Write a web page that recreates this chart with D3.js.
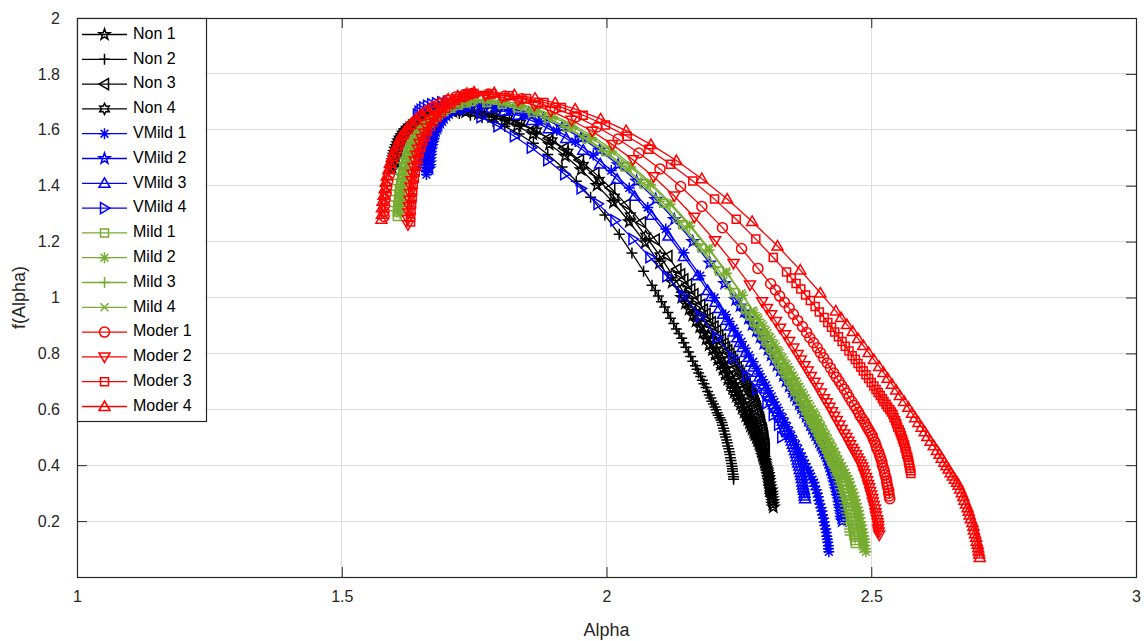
<!DOCTYPE html>
<html>
<head>
<meta charset="utf-8">
<script src="https://cdn.jsdelivr.net/npm/d3@7"></script>
<style>
  html, body { margin: 0; padding: 0; background: #ffffff; }
  svg { display: block; font-family: "Liberation Sans", Arial, Helvetica, sans-serif; }
</style>
</head>
<body>
<svg id="chart" width="1144" height="641"></svg>
<script>
// ---- Singularity spectra: alpha (x) and f(alpha) (y) for each recording ----
const non1Alpha = [1.595,1.595,1.596,1.597,1.598,1.599,1.600,1.602,1.604,1.606,1.608,1.611,1.614,1.617,1.621,1.626,1.631,1.637,1.643,1.650,1.658,1.667,1.678,1.689,1.701,
  1.710,1.734,1.758,1.783,1.807,1.831,1.861,1.892,1.922,1.952,1.982,2.013,2.043,2.073,2.100,2.124,
  2.142,2.149,2.156,2.163,2.169,2.176,2.182,2.188,2.194,2.200,2.205,2.210,2.215,2.220,2.224,2.229,2.234,2.238,2.241,2.245,2.249,2.253,2.256,2.260,2.263,2.267,2.270,2.272,2.275,2.278,2.280,2.283,2.285,2.288,2.290,
  2.292,2.293,2.295,2.297,2.299,2.300,2.302,2.303,2.305,2.306,2.307,2.308,2.309,2.311,2.312,2.312,2.313,2.314,2.314,2.315];
const non1F = [1.460,1.468,1.478,1.489,1.499,1.509,1.519,1.530,1.540,1.550,1.560,1.570,1.579,1.588,1.596,1.605,1.613,1.620,1.627,1.634,1.641,1.648,1.654,1.659,1.663,
  1.665,1.663,1.657,1.646,1.632,1.613,1.584,1.548,1.506,1.457,1.401,1.340,1.271,1.196,1.123,1.054,
  1.000,0.979,0.958,0.936,0.915,0.894,0.873,0.851,0.830,0.812,0.795,0.777,0.759,0.742,0.724,0.706,0.689,0.675,0.660,0.646,0.632,0.618,0.604,0.590,0.575,0.563,0.551,0.540,0.529,0.518,0.508,0.498,0.488,0.479,0.469,
  0.458,0.447,0.435,0.424,0.413,0.401,0.390,0.379,0.367,0.356,0.345,0.333,0.322,0.311,0.300,0.290,0.280,0.270,0.260,0.250];

const non2Alpha = [1.600,1.600,1.601,1.601,1.602,1.603,1.604,1.606,1.607,1.609,1.611,1.614,1.616,1.620,1.623,1.627,1.632,1.637,1.642,1.648,1.655,1.663,1.672,1.682,1.692,
  1.700,1.722,1.743,1.765,1.786,1.808,1.835,1.862,1.889,1.916,1.943,1.970,1.997,2.024,2.048,2.070,
  2.086,2.092,2.098,2.104,2.110,2.116,2.121,2.127,2.132,2.137,2.142,2.146,2.150,2.155,2.159,2.163,2.168,2.171,2.174,2.178,2.181,2.184,2.188,2.191,2.194,2.197,2.199,2.202,2.205,2.207,2.209,2.211,2.214,2.216,2.218,
  2.219,2.221,2.222,2.224,2.225,2.227,2.228,2.229,2.231,2.232,2.233,2.234,2.235,2.236,2.237,2.238,2.238,2.239,2.240,2.240];
const non2F = [1.500,1.506,1.514,1.522,1.530,1.538,1.546,1.554,1.562,1.570,1.578,1.586,1.593,1.600,1.606,1.613,1.619,1.625,1.630,1.636,1.642,1.646,1.651,1.655,1.658,
  1.660,1.658,1.652,1.643,1.629,1.612,1.585,1.552,1.512,1.467,1.416,1.359,1.295,1.226,1.159,1.094,
  1.044,1.025,1.005,0.985,0.966,0.946,0.926,0.907,0.887,0.871,0.854,0.838,0.822,0.805,0.789,0.772,0.756,0.743,0.730,0.717,0.704,0.691,0.678,0.664,0.651,0.640,0.629,0.619,0.608,0.598,0.588,0.579,0.570,0.562,0.553,
  0.543,0.532,0.522,0.511,0.501,0.490,0.480,0.469,0.459,0.448,0.438,0.427,0.417,0.406,0.396,0.387,0.378,0.368,0.359,0.350];

const non3Alpha = [1.605,1.605,1.606,1.607,1.607,1.609,1.610,1.611,1.613,1.615,1.617,1.620,1.623,1.626,1.630,1.635,1.640,1.645,1.651,1.658,1.666,1.674,1.684,1.695,1.706,
  1.715,1.738,1.762,1.785,1.809,1.832,1.861,1.891,1.920,1.949,1.978,2.008,2.037,2.066,2.092,2.116,
  2.133,2.140,2.146,2.153,2.159,2.165,2.171,2.178,2.183,2.188,2.193,2.198,2.203,2.208,2.212,2.217,2.222,2.225,2.229,2.233,2.236,2.240,2.243,2.247,2.250,2.253,2.256,2.259,2.262,2.264,2.267,2.269,2.271,2.274,2.276,
  2.277,2.279,2.281,2.283,2.284,2.286,2.287,2.289,2.290,2.291,2.292,2.294,2.295,2.296,2.297,2.297,2.298,2.299,2.299,2.300];
const non3F = [1.520,1.526,1.534,1.541,1.549,1.556,1.564,1.571,1.579,1.586,1.594,1.600,1.607,1.614,1.620,1.626,1.632,1.637,1.642,1.648,1.653,1.657,1.662,1.666,1.669,
  1.670,1.668,1.663,1.654,1.641,1.625,1.600,1.570,1.534,1.492,1.445,1.392,1.333,1.269,1.207,1.148,
  1.101,1.083,1.065,1.047,1.029,1.011,0.992,0.974,0.956,0.941,0.926,0.911,0.896,0.881,0.865,0.850,0.835,0.823,0.811,0.799,0.787,0.775,0.763,0.750,0.738,0.728,0.718,0.708,0.698,0.689,0.680,0.672,0.663,0.655,0.648,
  0.638,0.628,0.619,0.609,0.599,0.590,0.580,0.570,0.560,0.551,0.541,0.531,0.522,0.512,0.502,0.494,0.485,0.477,0.469,0.460];

const non4Alpha = [1.598,1.598,1.599,1.600,1.601,1.602,1.603,1.605,1.607,1.609,1.612,1.615,1.618,1.622,1.626,1.631,1.636,1.643,1.649,1.657,1.665,1.675,1.686,1.698,1.710,
  1.720,1.744,1.767,1.791,1.814,1.838,1.868,1.897,1.927,1.956,1.986,2.015,2.045,2.074,2.101,2.124,
  2.142,2.148,2.155,2.161,2.168,2.174,2.180,2.186,2.192,2.197,2.202,2.207,2.212,2.217,2.222,2.226,2.231,2.235,2.238,2.242,2.246,2.249,2.253,2.256,2.260,2.263,2.266,2.268,2.271,2.274,2.276,2.279,2.281,2.283,2.285,
  2.287,2.289,2.291,2.292,2.294,2.296,2.297,2.298,2.300,2.301,2.302,2.304,2.305,2.306,2.307,2.307,2.308,2.309,2.309,2.310];
const non4F = [1.480,1.488,1.498,1.507,1.517,1.527,1.537,1.546,1.556,1.566,1.576,1.584,1.593,1.602,1.610,1.617,1.625,1.632,1.639,1.646,1.653,1.658,1.664,1.669,1.673,
  1.675,1.673,1.667,1.657,1.643,1.624,1.596,1.561,1.520,1.473,1.419,1.359,1.292,1.220,1.149,1.081,
  1.029,1.008,0.988,0.967,0.946,0.926,0.905,0.884,0.864,0.847,0.829,0.812,0.795,0.778,0.761,0.743,0.726,0.713,0.699,0.685,0.671,0.658,0.644,0.630,0.616,0.605,0.593,0.582,0.571,0.561,0.550,0.541,0.531,0.522,0.513,
  0.502,0.491,0.480,0.469,0.458,0.447,0.436,0.425,0.414,0.403,0.392,0.381,0.370,0.359,0.348,0.339,0.329,0.319,0.310,0.300];

const vmild1Alpha = [1.660,1.660,1.661,1.661,1.662,1.662,1.663,1.664,1.666,1.667,1.668,1.670,1.672,1.675,1.677,1.680,1.684,1.687,1.692,1.696,1.701,1.707,1.714,1.722,1.729,
  1.735,1.762,1.790,1.817,1.845,1.872,1.906,1.941,1.975,2.009,2.043,2.078,2.112,2.146,2.177,2.204,
  2.225,2.232,2.240,2.248,2.255,2.262,2.269,2.277,2.284,2.289,2.295,2.301,2.306,2.312,2.317,2.323,2.328,2.333,2.337,2.341,2.345,2.349,2.353,2.358,2.362,2.365,2.369,2.372,2.375,2.378,2.381,2.384,2.386,2.389,2.392,
  2.393,2.396,2.398,2.400,2.401,2.403,2.405,2.407,2.408,2.410,2.411,2.412,2.414,2.415,2.416,2.417,2.418,2.419,2.419,2.420];
const vmild1F = [1.440,1.450,1.463,1.475,1.488,1.500,1.513,1.525,1.538,1.550,1.563,1.574,1.585,1.596,1.606,1.616,1.626,1.635,1.644,1.653,1.661,1.669,1.676,1.683,1.688,
  1.690,1.688,1.681,1.669,1.652,1.631,1.598,1.558,1.510,1.454,1.392,1.322,1.245,1.160,1.078,0.999,
  0.938,0.914,0.890,0.866,0.842,0.818,0.794,0.770,0.746,0.726,0.706,0.686,0.666,0.646,0.626,0.606,0.586,0.570,0.554,0.538,0.522,0.506,0.490,0.474,0.458,0.444,0.431,0.418,0.405,0.393,0.381,0.370,0.359,0.348,0.338,
  0.325,0.312,0.300,0.287,0.274,0.261,0.248,0.236,0.223,0.210,0.197,0.184,0.172,0.159,0.146,0.135,0.124,0.112,0.101,0.090];

const vmild2Alpha = [1.665,1.665,1.666,1.666,1.667,1.667,1.668,1.669,1.671,1.672,1.673,1.675,1.677,1.680,1.682,1.685,1.689,1.692,1.697,1.701,1.706,1.712,1.719,1.727,1.734,
  1.740,1.768,1.796,1.825,1.853,1.881,1.916,1.952,1.987,2.022,2.057,2.093,2.128,2.163,2.195,2.223,
  2.244,2.252,2.260,2.268,2.275,2.283,2.290,2.297,2.305,2.311,2.316,2.322,2.328,2.334,2.339,2.345,2.351,2.355,2.359,2.364,2.368,2.372,2.377,2.381,2.385,2.389,2.392,2.395,2.399,2.402,2.405,2.408,2.410,2.413,2.416,
  2.418,2.420,2.422,2.424,2.426,2.428,2.430,2.431,2.433,2.434,2.436,2.437,2.439,2.440,2.441,2.442,2.443,2.444,2.444,2.445];
const vmild2F = [1.460,1.469,1.481,1.493,1.505,1.516,1.528,1.540,1.552,1.563,1.575,1.586,1.596,1.607,1.616,1.626,1.635,1.643,1.652,1.660,1.668,1.675,1.682,1.688,1.693,
  1.695,1.693,1.686,1.675,1.660,1.640,1.609,1.571,1.527,1.475,1.416,1.351,1.279,1.200,1.123,1.050,
  0.992,0.970,0.948,0.925,0.903,0.880,0.858,0.835,0.813,0.794,0.776,0.757,0.738,0.720,0.701,0.682,0.663,0.649,0.634,0.619,0.604,0.589,0.574,0.559,0.544,0.531,0.518,0.507,0.495,0.483,0.472,0.462,0.451,0.441,0.432,
  0.420,0.408,0.396,0.384,0.372,0.360,0.348,0.336,0.324,0.312,0.300,0.288,0.276,0.264,0.252,0.242,0.231,0.221,0.210,0.200];

const vmild3Alpha = [1.655,1.655,1.656,1.656,1.657,1.657,1.658,1.659,1.661,1.662,1.663,1.665,1.667,1.670,1.672,1.675,1.679,1.682,1.687,1.691,1.696,1.702,1.709,1.717,1.724,
  1.730,1.756,1.782,1.807,1.833,1.859,1.891,1.924,1.956,1.988,2.020,2.053,2.085,2.117,2.146,2.172,
  2.191,2.198,2.206,2.213,2.220,2.227,2.233,2.240,2.247,2.252,2.257,2.263,2.268,2.273,2.278,2.284,2.289,2.293,2.297,2.301,2.305,2.308,2.312,2.316,2.320,2.323,2.327,2.330,2.333,2.335,2.338,2.341,2.343,2.346,2.348,
  2.350,2.352,2.354,2.356,2.358,2.359,2.361,2.362,2.364,2.365,2.367,2.368,2.369,2.370,2.371,2.372,2.373,2.374,2.374,2.375];
const vmild3F = [1.470,1.479,1.489,1.500,1.511,1.522,1.532,1.543,1.554,1.565,1.575,1.585,1.595,1.604,1.613,1.622,1.630,1.638,1.645,1.653,1.660,1.667,1.673,1.679,1.683,
  1.685,1.683,1.677,1.666,1.652,1.633,1.604,1.569,1.527,1.478,1.423,1.362,1.294,1.220,1.147,1.078,
  1.025,1.004,0.983,0.961,0.940,0.919,0.898,0.877,0.856,0.839,0.821,0.803,0.786,0.768,0.751,0.733,0.716,0.702,0.688,0.673,0.659,0.645,0.631,0.617,0.603,0.591,0.579,0.568,0.557,0.546,0.536,0.526,0.516,0.507,0.498,
  0.487,0.475,0.464,0.453,0.442,0.430,0.419,0.408,0.397,0.385,0.374,0.363,0.352,0.340,0.329,0.319,0.310,0.300,0.290,0.280];

const vmild4Alpha = [1.643,1.646,1.650,1.655,1.662,1.670,1.679,1.689,
  1.700,1.732,1.763,1.795,1.826,1.858,1.889,1.921,1.952,1.984,2.016,2.050,2.082,2.114,2.145,2.177,2.209,2.239,2.265,2.284,2.303,2.315,2.325,2.331];
const vmild4F = [1.655,1.664,1.672,1.680,1.686,1.691,1.695,1.698,
  1.700,1.672,1.645,1.613,1.577,1.536,1.491,1.441,1.390,1.335,1.276,1.209,1.144,1.076,1.007,0.934,0.857,0.785,0.720,0.672,0.622,0.580,0.545,0.500];

const mild1Alpha = [1.605,1.605,1.606,1.607,1.608,1.609,1.611,1.613,1.615,1.618,1.621,1.624,1.628,1.632,1.637,1.643,1.649,1.656,1.664,1.672,1.682,1.693,1.706,1.720,1.734,
  1.745,1.774,1.803,1.832,1.861,1.890,1.926,1.963,1.999,2.035,2.071,2.108,2.144,2.180,2.213,2.242,
  2.263,2.271,2.280,2.287,2.295,2.303,2.311,2.318,2.326,2.332,2.338,2.344,2.350,2.356,2.361,2.367,2.373,2.377,2.382,2.386,2.391,2.395,2.400,2.404,2.408,2.412,2.416,2.419,2.422,2.426,2.429,2.432,2.435,2.437,2.440,
  2.442,2.444,2.446,2.448,2.450,2.452,2.454,2.456,2.457,2.459,2.461,2.462,2.463,2.465,2.466,2.467,2.468,2.469,2.469,2.470];
const mild1F = [1.290,1.306,1.327,1.347,1.368,1.388,1.409,1.429,1.450,1.470,1.491,1.509,1.528,1.546,1.563,1.579,1.595,1.610,1.624,1.639,1.653,1.665,1.677,1.688,1.696,
  1.700,1.698,1.691,1.679,1.663,1.642,1.609,1.569,1.522,1.467,1.406,1.337,1.260,1.177,1.095,1.018,
  0.957,0.934,0.910,0.886,0.863,0.839,0.815,0.792,0.768,0.748,0.728,0.709,0.689,0.669,0.649,0.630,0.610,0.594,0.578,0.562,0.547,0.531,0.515,0.499,0.483,0.470,0.457,0.444,0.431,0.419,0.408,0.397,0.385,0.375,0.365,
  0.352,0.340,0.327,0.314,0.302,0.289,0.276,0.264,0.251,0.239,0.226,0.213,0.201,0.188,0.175,0.164,0.153,0.142,0.131,0.120];

const mild2Alpha = [1.610,1.610,1.611,1.612,1.613,1.614,1.616,1.618,1.620,1.623,1.626,1.629,1.633,1.637,1.642,1.648,1.654,1.661,1.669,1.677,1.687,1.698,1.711,1.725,1.739,
  1.750,1.780,1.809,1.839,1.868,1.898,1.935,1.972,2.009,2.046,2.083,2.120,2.157,2.194,2.227,2.257,
  2.279,2.287,2.296,2.304,2.312,2.320,2.327,2.335,2.343,2.349,2.355,2.361,2.367,2.373,2.379,2.385,2.391,2.396,2.400,2.405,2.409,2.414,2.418,2.423,2.427,2.431,2.434,2.438,2.441,2.445,2.448,2.451,2.454,2.457,2.459,
  2.461,2.464,2.466,2.468,2.470,2.472,2.474,2.476,2.477,2.479,2.480,2.482,2.483,2.485,2.486,2.487,2.488,2.488,2.489,2.490];
const mild2F = [1.300,1.316,1.336,1.357,1.377,1.397,1.417,1.438,1.458,1.478,1.498,1.517,1.535,1.553,1.569,1.586,1.602,1.616,1.630,1.644,1.658,1.671,1.683,1.693,1.701,
  1.705,1.703,1.695,1.684,1.667,1.646,1.612,1.571,1.523,1.467,1.404,1.334,1.256,1.170,1.087,1.008,
  0.946,0.922,0.898,0.873,0.849,0.825,0.801,0.776,0.752,0.732,0.712,0.692,0.671,0.651,0.631,0.611,0.591,0.575,0.558,0.542,0.526,0.510,0.494,0.478,0.461,0.448,0.434,0.421,0.408,0.396,0.384,0.373,0.361,0.351,0.340,
  0.327,0.314,0.302,0.289,0.276,0.263,0.250,0.237,0.224,0.211,0.198,0.185,0.172,0.159,0.147,0.135,0.124,0.113,0.101,0.090];

const mild3Alpha = [1.600,1.600,1.601,1.602,1.603,1.604,1.606,1.608,1.610,1.613,1.616,1.619,1.623,1.627,1.632,1.638,1.644,1.651,1.659,1.667,1.677,1.688,1.701,1.715,1.729,
  1.740,1.769,1.798,1.826,1.855,1.884,1.920,1.956,1.992,2.028,2.064,2.100,2.136,2.172,2.204,2.233,
  2.255,2.263,2.271,2.279,2.287,2.294,2.302,2.309,2.317,2.323,2.329,2.335,2.341,2.346,2.352,2.358,2.364,2.368,2.373,2.377,2.381,2.386,2.390,2.394,2.399,2.402,2.406,2.409,2.413,2.416,2.419,2.422,2.425,2.427,2.430,
  2.432,2.434,2.436,2.439,2.441,2.442,2.444,2.446,2.448,2.449,2.451,2.452,2.453,2.455,2.456,2.457,2.458,2.459,2.459,2.460];
const mild3F = [1.310,1.326,1.345,1.365,1.384,1.404,1.423,1.443,1.462,1.482,1.501,1.519,1.536,1.554,1.569,1.585,1.601,1.614,1.628,1.642,1.655,1.667,1.679,1.688,1.696,
  1.700,1.698,1.691,1.680,1.663,1.643,1.611,1.572,1.525,1.472,1.411,1.344,1.269,1.187,1.107,1.031,
  0.972,0.948,0.925,0.902,0.879,0.855,0.832,0.809,0.786,0.766,0.747,0.727,0.708,0.689,0.669,0.650,0.631,0.615,0.600,0.584,0.569,0.553,0.538,0.522,0.507,0.493,0.480,0.468,0.455,0.444,0.432,0.421,0.410,0.400,0.390,
  0.378,0.366,0.353,0.341,0.328,0.316,0.303,0.291,0.279,0.266,0.254,0.241,0.229,0.217,0.204,0.193,0.183,0.172,0.161,0.150];

const mild4Alpha = [1.615,1.615,1.616,1.617,1.618,1.619,1.621,1.623,1.625,1.628,1.631,1.634,1.638,1.642,1.647,1.653,1.659,1.666,1.674,1.682,1.692,1.703,1.716,1.730,1.744,
  1.755,1.784,1.813,1.843,1.872,1.901,1.938,1.974,2.011,2.047,2.084,2.120,2.157,2.193,2.226,2.255,
  2.277,2.285,2.293,2.301,2.309,2.317,2.325,2.332,2.340,2.346,2.352,2.358,2.364,2.370,2.376,2.381,2.387,2.392,2.396,2.401,2.405,2.410,2.414,2.419,2.423,2.427,2.430,2.434,2.437,2.440,2.443,2.446,2.449,2.452,2.455,
  2.457,2.459,2.461,2.463,2.465,2.467,2.469,2.471,2.472,2.474,2.476,2.477,2.478,2.480,2.481,2.482,2.483,2.484,2.484,2.485];
const mild4F = [1.320,1.336,1.355,1.375,1.394,1.414,1.433,1.453,1.472,1.492,1.511,1.529,1.546,1.564,1.579,1.595,1.611,1.624,1.638,1.652,1.665,1.677,1.689,1.698,1.706,
  1.710,1.708,1.701,1.689,1.672,1.651,1.617,1.577,1.529,1.473,1.410,1.340,1.262,1.177,1.094,1.015,
  0.953,0.929,0.905,0.881,0.857,0.833,0.808,0.784,0.760,0.740,0.720,0.700,0.680,0.659,0.639,0.619,0.599,0.583,0.567,0.551,0.535,0.519,0.503,0.486,0.470,0.457,0.443,0.430,0.417,0.405,0.393,0.382,0.370,0.360,0.350,
  0.337,0.324,0.311,0.298,0.285,0.272,0.259,0.247,0.234,0.221,0.208,0.195,0.182,0.169,0.156,0.145,0.134,0.123,0.111,0.100];

const moder1Alpha = [1.580,1.580,1.581,1.582,1.584,1.585,1.587,1.590,1.592,1.595,1.599,1.603,1.607,1.612,1.618,1.625,1.632,1.640,1.649,1.659,1.671,1.684,1.699,1.715,1.732,
  1.745,1.777,1.808,1.840,1.871,1.903,1.943,1.982,2.022,2.061,2.101,2.140,2.180,2.219,2.255,2.286,
  2.310,2.319,2.327,2.336,2.345,2.353,2.361,2.370,2.378,2.384,2.391,2.398,2.404,2.410,2.417,2.423,2.429,2.434,2.439,2.444,2.449,2.454,2.458,2.463,2.468,2.472,2.476,2.479,2.483,2.487,2.490,2.493,2.496,2.499,2.502,
  2.504,2.507,2.509,2.511,2.514,2.516,2.518,2.520,2.521,2.523,2.525,2.526,2.528,2.529,2.530,2.531,2.533,2.533,2.534,2.535];
const moder1F = [1.290,1.308,1.330,1.352,1.374,1.396,1.418,1.440,1.462,1.484,1.506,1.525,1.545,1.565,1.583,1.600,1.618,1.633,1.649,1.664,1.679,1.693,1.706,1.717,1.726,
  1.730,1.728,1.721,1.711,1.696,1.677,1.647,1.610,1.567,1.517,1.460,1.397,1.326,1.250,1.175,1.104,
  1.049,1.027,1.005,0.983,0.962,0.940,0.918,0.896,0.875,0.856,0.838,0.820,0.802,0.784,0.766,0.748,0.730,0.715,0.701,0.686,0.672,0.657,0.643,0.628,0.614,0.601,0.589,0.577,0.566,0.555,0.544,0.534,0.524,0.514,0.505,
  0.493,0.482,0.470,0.458,0.447,0.435,0.424,0.412,0.400,0.389,0.377,0.366,0.354,0.342,0.331,0.321,0.310,0.300,0.290,0.280];

const moder2Alpha = [1.625,1.625,1.626,1.627,1.628,1.629,1.630,1.632,1.634,1.636,1.638,1.641,1.644,1.647,1.651,1.656,1.661,1.667,1.673,1.680,1.688,1.697,1.708,1.719,1.731,
  1.740,1.771,1.802,1.833,1.864,1.895,1.934,1.973,2.011,2.050,2.089,2.128,2.166,2.205,2.240,2.271,
  2.294,2.303,2.311,2.320,2.328,2.337,2.345,2.353,2.361,2.367,2.374,2.380,2.386,2.393,2.399,2.405,2.411,2.416,2.421,2.426,2.430,2.435,2.440,2.444,2.449,2.453,2.457,2.460,2.464,2.467,2.471,2.474,2.477,2.480,2.483,
  2.485,2.487,2.490,2.492,2.494,2.496,2.498,2.500,2.502,2.503,2.505,2.507,2.508,2.509,2.511,2.512,2.513,2.513,2.514,2.515];
const moder2F = [1.260,1.279,1.302,1.325,1.348,1.372,1.395,1.418,1.441,1.465,1.488,1.509,1.530,1.551,1.569,1.588,1.606,1.623,1.639,1.655,1.672,1.685,1.699,1.711,1.720,
  1.725,1.723,1.716,1.704,1.688,1.667,1.634,1.595,1.547,1.493,1.432,1.363,1.287,1.203,1.122,1.045,
  0.985,0.961,0.938,0.914,0.890,0.867,0.843,0.819,0.796,0.776,0.756,0.737,0.717,0.697,0.678,0.658,0.638,0.623,0.607,0.591,0.575,0.560,0.544,0.528,0.512,0.499,0.486,0.473,0.460,0.449,0.437,0.426,0.415,0.404,0.394,
  0.382,0.369,0.356,0.344,0.331,0.319,0.306,0.293,0.281,0.268,0.256,0.243,0.230,0.218,0.205,0.194,0.183,0.172,0.161,0.150];

const moder3Alpha = [1.630,1.630,1.631,1.632,1.633,1.634,1.635,1.637,1.639,1.641,1.644,1.646,1.650,1.653,1.658,1.662,1.668,1.674,1.680,1.688,1.696,1.706,1.716,1.728,1.740,
  1.750,1.783,1.816,1.849,1.882,1.915,1.956,1.998,2.039,2.080,2.121,2.163,2.204,2.245,2.282,2.315,
  2.340,2.349,2.358,2.367,2.376,2.385,2.394,2.402,2.411,2.418,2.425,2.431,2.438,2.445,2.451,2.458,2.464,2.470,2.475,2.480,2.485,2.490,2.495,2.500,2.505,2.509,2.513,2.517,2.521,2.524,2.528,2.531,2.535,2.538,2.541,
  2.543,2.546,2.548,2.550,2.553,2.555,2.557,2.559,2.561,2.563,2.564,2.566,2.567,2.569,2.570,2.571,2.572,2.573,2.574,2.575];
const moder3F = [1.270,1.288,1.311,1.334,1.357,1.380,1.403,1.426,1.449,1.472,1.495,1.516,1.537,1.558,1.576,1.594,1.613,1.629,1.645,1.661,1.677,1.691,1.705,1.716,1.725,
  1.730,1.728,1.722,1.712,1.698,1.680,1.652,1.617,1.577,1.530,1.477,1.417,1.352,1.280,1.209,1.143,
  1.091,1.070,1.050,1.030,1.009,0.989,0.968,0.948,0.928,0.911,0.894,0.877,0.860,0.843,0.826,0.809,0.792,0.778,0.764,0.751,0.737,0.724,0.710,0.696,0.683,0.671,0.660,0.649,0.638,0.628,0.618,0.608,0.599,0.590,0.581,
  0.570,0.559,0.548,0.537,0.526,0.516,0.505,0.494,0.483,0.472,0.461,0.450,0.439,0.429,0.418,0.408,0.399,0.389,0.380,0.370];

const moder4Alpha = [1.575,1.576,1.576,1.577,1.579,1.581,1.583,1.585,1.588,1.591,1.595,1.599,1.604,1.609,1.615,1.622,1.630,1.639,1.649,1.659,1.671,1.685,1.701,1.719,1.736,
  1.750,1.788,1.826,1.865,1.903,1.941,1.989,2.037,2.084,2.132,2.180,2.228,2.275,2.323,2.366,2.404,
  2.433,2.443,2.454,2.465,2.475,2.485,2.495,2.505,2.515,2.523,2.531,2.539,2.547,2.554,2.562,2.570,2.577,2.583,2.589,2.595,2.601,2.606,2.612,2.618,2.624,2.629,2.633,2.638,2.642,2.646,2.650,2.654,2.658,2.662,2.665,
  2.668,2.671,2.674,2.676,2.679,2.682,2.684,2.686,2.688,2.691,2.693,2.694,2.696,2.698,2.699,2.701,2.702,2.703,2.704,2.705];
const moder4F = [1.280,1.298,1.321,1.344,1.366,1.389,1.412,1.435,1.457,1.480,1.503,1.523,1.544,1.564,1.583,1.601,1.619,1.635,1.651,1.667,1.683,1.696,1.710,1.721,1.730,
  1.735,1.733,1.725,1.713,1.696,1.674,1.639,1.597,1.547,1.490,1.425,1.352,1.272,1.184,1.098,1.016,
  0.952,0.928,0.903,0.878,0.853,0.828,0.803,0.778,0.753,0.732,0.711,0.690,0.669,0.649,0.628,0.607,0.586,0.570,0.553,0.536,0.520,0.503,0.486,0.470,0.453,0.439,0.425,0.411,0.398,0.386,0.373,0.361,0.350,0.339,0.328,
  0.315,0.301,0.288,0.275,0.261,0.248,0.235,0.222,0.208,0.195,0.182,0.168,0.155,0.142,0.128,0.117,0.105,0.093,0.082,0.070];

const seriesNames = ["Non 1","Non 2","Non 3","Non 4","VMild 1","VMild 2","VMild 3","VMild 4",
                     "Mild 1","Mild 2","Mild 3","Mild 4","Moder 1","Moder 2","Moder 3","Moder 4"];
const seriesAlpha = [non1Alpha, non2Alpha, non3Alpha, non4Alpha, vmild1Alpha, vmild2Alpha, vmild3Alpha, vmild4Alpha,
                     mild1Alpha, mild2Alpha, mild3Alpha, mild4Alpha, moder1Alpha, moder2Alpha, moder3Alpha, moder4Alpha];
const seriesF = [non1F, non2F, non3F, non4F, vmild1F, vmild2F, vmild3F, vmild4F,
                 mild1F, mild2F, mild3F, mild4F, moder1F, moder2F, moder3F, moder4F];

const xTickValues = [1, 1.5, 2, 2.5, 3];
const xTickLabels = ["1", "1.5", "2", "2.5", "3"];
const yTickValues = [0.2, 0.4, 0.6, 0.8, 1, 1.2, 1.4, 1.6, 1.8, 2];
const yTickLabels = ["0.2", "0.4", "0.6", "0.8", "1", "1.2", "1.4", "1.6", "1.8", "2"];

// ---- Styling: one colour per severity group, one marker per recording ----
const groupColors = { Non: "#000000", VMild: "#0000ff", Mild: "#77ac30", Moder: "#ff0000" };
const seriesMarkers = ["p", "+", "<", "h", "*", "p", "^", ">", "s", "*", "+", "x", "o", "v", "s", "^"];
const markerStroke = 1.5;
const lineStroke = 1.3;

// ---- Layout ----
const svg = d3.select("#chart");
const plot = { left: 77, top: 18, right: 1136, bottom: 577 };
const x = d3.scaleLinear().domain([1, 3]).range([plot.left, plot.right]);
const y = d3.scaleLinear().domain([0, 2]).range([plot.bottom, plot.top]);
const axisColor = "#262626";
const gridColor = "#dedede";

// Marker outlines centred on (0,0)
function starPath(points, rOuter, rInner) {
  const pts = [];
  for (let i = 0; i < points * 2; i++) {
    const r = i % 2 === 0 ? rOuter : rInner;
    const a = -Math.PI / 2 + i * Math.PI / points;
    pts.push([r * Math.cos(a), r * Math.sin(a)]);
  }
  return "M" + pts.map(p => p[0].toFixed(2) + "," + p[1].toFixed(2)).join("L") + "Z";
}
function markerPath(type) {
  switch (type) {
    case "o": return "M5,0A5,5 0 1,1 -5,0A5,5 0 1,1 5,0Z";
    case "s": return "M-4,-4H4V4H-4Z";
    case "^": return "M0,-5.5L5.5,4L-5.5,4Z";
    case "v": return "M0,5.5L5.5,-4L-5.5,-4Z";
    case "<": return "M-5.5,0L4,-5.5L4,5.5Z";
    case ">": return "M5.5,0L-4,-5.5L-4,5.5Z";
    case "+": return "M-5.5,0H5.5M0,-5.5V5.5";
    case "x": return "M-4,-4L4,4M-4,4L4,-4";
    case "*": return "M-5.5,0H5.5M0,-5.5V5.5M-3.9,-3.9L3.9,3.9M-3.9,3.9L3.9,-3.9";
    case "p": return starPath(5, 5.8, 2.3);
    case "h": return starPath(6, 5.5, 3.0);
  }
  return "";
}
function groupOf(name) { return name.split(" ")[0]; }

// Grid lines (interior ticks only)
const gridG = svg.append("g");
gridG.selectAll("line.gx").data(xTickValues.filter(v => v > 1 && v < 3)).enter().append("line")
  .attr("x1", d => x(d)).attr("x2", d => x(d)).attr("y1", plot.top).attr("y2", plot.bottom)
  .attr("stroke", gridColor).attr("stroke-width", 1).attr("shape-rendering", "crispEdges");
gridG.selectAll("line.gy").data(yTickValues.filter(v => v < 2)).enter().append("line")
  .attr("y1", d => y(d)).attr("y2", d => y(d)).attr("x1", plot.left).attr("x2", plot.right)
  .attr("stroke", gridColor).attr("stroke-width", 1).attr("shape-rendering", "crispEdges");

// Spectra
const clipId = "plotClip";
svg.append("clipPath").attr("id", clipId).append("rect")
  .attr("x", plot.left).attr("y", plot.top)
  .attr("width", plot.right - plot.left).attr("height", plot.bottom - plot.top);
const dataG = svg.append("g").attr("clip-path", `url(#${clipId})`);
const line = d3.line().x(d => x(d[0])).y(d => y(d[1]));

seriesNames.forEach((name, i) => {
  const color = groupColors[groupOf(name)];
  const n = Math.min(seriesAlpha[i].length, seriesF[i].length);
  const pts = seriesAlpha[i].slice(0, n).map((a, k) => [a, seriesF[i][k]]);
  const g = dataG.append("g");
  g.append("path").attr("d", line(pts)).attr("fill", "none")
    .attr("stroke", color).attr("stroke-width", lineStroke);
  const mp = markerPath(seriesMarkers[i]);
  g.selectAll("path.m").data(pts).enter().append("path")
    .attr("class", "m")
    .attr("d", mp)
    .attr("transform", d => `translate(${x(d[0])},${y(d[1])})`)
    .attr("fill", "none").attr("stroke", color).attr("stroke-width", markerStroke);
});

// Axes box with inward ticks
const axG = svg.append("g");
const xAxis = d3.axisBottom(x).tickValues(xTickValues).tickSize(-10).tickPadding(14)
  .tickFormat((d, i) => xTickLabels[i]);
const yAxis = d3.axisLeft(y).tickValues(yTickValues).tickSize(-10).tickPadding(17)
  .tickFormat((d, i) => yTickLabels[i]);
const xTop = d3.axisTop(x).tickValues(xTickValues).tickSize(-10).tickFormat("");
const yRight = d3.axisRight(y).tickValues(yTickValues).tickSize(-10).tickFormat("");

function styleAxis(sel) {
  sel.select(".domain").attr("stroke", axisColor).attr("stroke-width", 1);
  sel.selectAll(".tick line").attr("stroke", axisColor).attr("stroke-width", 1);
  sel.selectAll(".tick text").attr("fill", axisColor).style("font-size", "16px")
    .style("font-family", "\"Liberation Sans\", Arial, sans-serif");
}
axG.append("g").attr("transform", `translate(0,${plot.bottom})`).call(xAxis).call(styleAxis);
axG.append("g").attr("transform", `translate(${plot.left},0)`).call(yAxis).call(styleAxis);
axG.append("g").attr("transform", `translate(0,${plot.top})`).call(xTop).call(styleAxis);
axG.append("g").attr("transform", `translate(${plot.right},0)`).call(yRight).call(styleAxis);
axG.selectAll(".domain").attr("d", null);
axG.append("rect").attr("x", plot.left + 0.5).attr("y", plot.top + 0.5)
  .attr("width", plot.right - plot.left).attr("height", plot.bottom - plot.top)
  .attr("fill", "none").attr("stroke", axisColor).attr("stroke-width", 1.2);

// Axis labels
svg.append("text").attr("x", x(2)).attr("y", 631)
  .attr("text-anchor", "middle").attr("dominant-baseline", "middle")
  .attr("fill", axisColor).style("font-size", "18px").text("Alpha");
svg.append("text").attr("transform", `translate(20,${y(1)}) rotate(-90)`)
  .attr("text-anchor", "middle").attr("dominant-baseline", "middle")
  .attr("fill", axisColor).style("font-size", "18px").text("f(Alpha)");

// Legend
const leg = { left: plot.left, top: plot.top, width: 129, rowH: 24.8, firstY: 34.5 };
const legG = svg.append("g");
legG.append("rect").attr("x", leg.left + 0.5).attr("y", leg.top + 0.5)
  .attr("width", leg.width).attr("height", 403)
  .attr("fill", "#ffffff").attr("stroke", axisColor).attr("stroke-width", 1.2);
seriesNames.forEach((name, i) => {
  const color = groupColors[groupOf(name)];
  const cy = leg.firstY + i * leg.rowH;
  const row = legG.append("g");
  row.append("line").attr("x1", 82).attr("x2", 127).attr("y1", cy).attr("y2", cy)
    .attr("stroke", color).attr("stroke-width", lineStroke);
  row.append("path").attr("d", markerPath(seriesMarkers[i]))
    .attr("transform", `translate(104.5,${cy})`)
    .attr("fill", "none").attr("stroke", color).attr("stroke-width", markerStroke);
  row.append("text").attr("x", 133).attr("y", cy)
    .attr("dominant-baseline", "middle").attr("fill", "#000")
    .style("font-size", "16px").text(name);
});
</script>
</body>
</html>
